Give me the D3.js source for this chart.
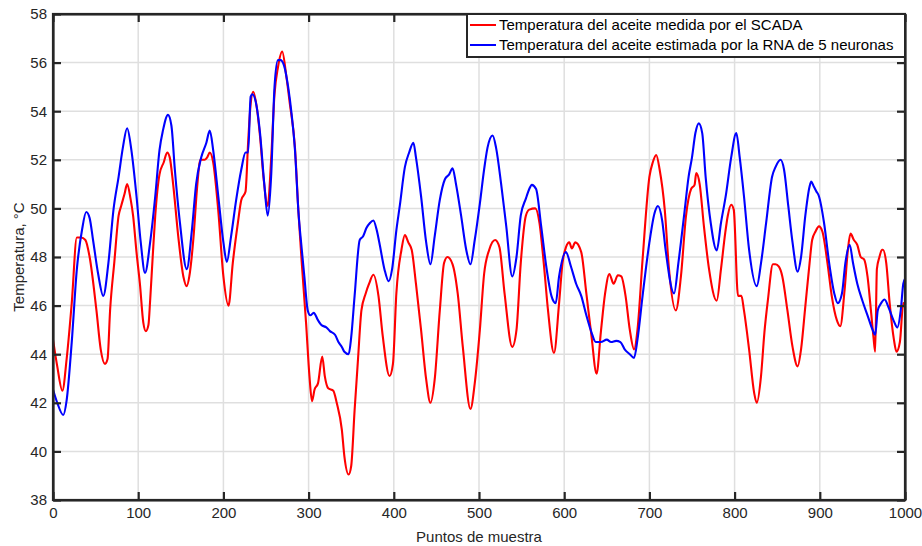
<!DOCTYPE html>
<html>
<head>
<meta charset="utf-8">
<script src="https://cdn.jsdelivr.net/npm/d3@7"></script>
<style>
  html, body { margin: 0; padding: 0; background: #fff; }
  svg { display: block; font-family: "Liberation Sans", Arial, Helvetica, sans-serif; }
</style>
</head>
<body>
<svg id="chart" width="922" height="546"></svg>
<script>
// Oil temperature: SCADA measurement vs. 5-neuron ANN estimate
const seriesNames = [
  "Temperatura del aceite medida por el SCADA",
  "Temperatura del aceite estimada por la RNA de 5 neuronas"
];
const seriesColors = ["#ff0000", "#0000ff"];

const xTicks = [0, 100, 200, 300, 400, 500, 600, 700, 800, 900, 1000];
const yTicks = [38, 40, 42, 44, 46, 48, 50, 52, 54, 56, 58];

// Measured (SCADA)
const scadaX = [0, 5, 11, 16, 22, 28, 33, 38, 43, 51, 56, 61, 64, 67, 72, 77, 80, 84, 87, 91, 94, 98, 102, 106, 109, 112, 114, 117, 120, 125, 130, 134, 137, 141, 147, 153, 157, 160, 165, 169, 173, 178, 181, 184, 188, 194, 200, 206, 211, 217, 221, 226, 229, 232, 235, 239, 243, 247, 252, 256, 260, 264, 269, 274, 278, 284, 288, 292, 297, 301, 304, 307, 311, 316, 319, 323, 329, 333, 339, 342, 347, 350, 354, 358, 362, 367, 371, 376, 382, 387, 395, 399, 403, 409, 413, 417, 421, 426, 432, 438, 443, 448, 454, 459, 463, 469, 475, 481, 490, 495, 501, 506, 512, 519, 524, 530, 539, 544, 549, 555, 559, 566, 571, 576, 581, 588, 594, 598, 602, 606, 609, 613, 620, 626, 632, 638, 643, 648, 653, 658, 663, 667, 672, 677, 682, 686, 692, 700, 704, 708, 712, 718, 723, 731, 737, 743, 749, 753, 755, 759, 764, 770, 779, 784, 789, 792, 796, 799, 804, 808, 811, 817, 823, 826, 831, 835, 839, 845, 848, 852, 856, 862, 868, 874, 878, 883, 888, 891, 895, 899, 903, 909, 914, 920, 924, 929, 933, 936, 940, 944, 948, 952, 956, 960, 963, 965, 967, 970, 973, 974, 978, 982, 987, 990, 994, 998, 1000];
const scadaY = [44.6, 43.5, 42.5, 43.8, 46.1, 48.8, 48.8, 48.7, 48.0, 45.8, 44.2, 43.6, 43.8, 45.8, 47.8, 49.7, 50.1, 50.6, 51.0, 50.4, 49.7, 48.2, 46.9, 45.3, 44.95, 45.2, 46.2, 48.0, 49.7, 51.4, 51.9, 52.3, 52.1, 51.0, 48.85, 47.2, 46.8, 47.2, 48.85, 50.8, 52.0, 52.0, 52.1, 52.3, 51.9, 49.9, 47.2, 46.0, 47.75, 49.4, 50.35, 50.7, 52.7, 54.3, 54.8, 54.2, 52.96, 51.3, 50.1, 52.0, 54.7, 55.8, 56.45, 55.4, 54.3, 52.5, 49.9, 47.75, 45.3, 43.1, 42.07, 42.55, 42.8, 43.9, 43.1, 42.6, 42.5, 42.0, 40.9, 39.8, 39.05, 39.4, 41.7, 43.8, 45.8, 46.5, 46.9, 47.27, 46.4, 44.75, 43.1, 43.6, 46.5, 48.3, 48.9, 48.6, 48.3, 46.9, 45.0, 42.96, 42.0, 42.96, 45.8, 47.75, 48.0, 47.7, 46.5, 44.3, 41.75, 42.8, 45.0, 47.3, 48.3, 48.7, 48.4, 46.5, 44.3, 45.0, 47.75, 49.7, 49.95, 50.0, 49.4, 47.75, 45.8, 44.05, 46.1, 47.75, 48.4, 48.6, 48.35, 48.6, 48.2, 46.5, 44.75, 43.2, 44.9, 46.5, 47.3, 46.9, 47.25, 47.2, 46.4, 45.0, 44.2, 45.0, 47.9, 51.3, 51.9, 52.2, 51.6, 49.95, 47.5, 45.8, 47.2, 49.7, 50.8, 50.97, 51.45, 51.0, 49.26, 47.5, 46.2, 47.5, 48.99, 49.7, 50.15, 49.95, 46.4, 46.4, 45.8, 44.2, 42.4, 42.0, 43.1, 44.9, 46.2, 47.7, 47.7, 47.6, 47.2, 45.8, 44.3, 43.5, 44.2, 45.97, 47.75, 48.7, 49.05, 49.26, 49.05, 47.75, 46.4, 45.4, 45.15, 46.6, 48.3, 48.96, 48.7, 48.5, 48.0, 47.9, 47.2, 45.8, 44.7, 44.1, 47.5, 48.0, 48.3, 48.3, 47.75, 46.1, 44.6, 44.1, 44.5, 46.1, 46.0];

// Estimated (RNA)
const rnaX = [0, 5, 12, 16, 22, 28, 34, 39, 43, 47, 53, 59, 65, 71, 77, 82, 87, 92, 98, 103, 108, 114, 120, 125, 129, 135, 139, 143, 149, 157, 163, 168, 174, 180, 184, 188, 194, 200, 204, 209, 215, 221, 226, 229, 232, 234, 239, 243, 248, 252, 256, 260, 264, 267, 271, 276, 280, 284, 288, 292, 295, 299, 302, 306, 311, 315, 321, 325, 331, 335, 339, 342, 347, 350, 354, 360, 364, 368, 372, 376, 380, 383, 389, 394, 398, 403, 407, 413, 418, 423, 426, 432, 438, 443, 448, 454, 460, 465, 469, 473, 479, 485, 490, 495, 501, 506, 510, 516, 520, 526, 532, 539, 544, 549, 555, 559, 562, 567, 573, 579, 585, 590, 594, 602, 608, 614, 620, 626, 632, 637, 643, 650, 655, 661, 666, 671, 677, 682, 686, 692, 700, 706, 710, 715, 719, 729, 734, 741, 746, 750, 754, 758, 762, 766, 772, 779, 784, 790, 796, 802, 806, 811, 817, 826, 831, 837, 844, 848, 854, 858, 863, 868, 874, 878, 883, 888, 890, 893, 896, 899, 905, 911, 917, 921, 926, 930, 935, 939, 944, 950, 956, 962, 965, 968, 972, 976, 981, 987, 991, 995, 998, 1000];
const rnaY = [42.55, 42.0, 41.5, 42.1, 44.5, 47.5, 49.1, 49.85, 49.6, 48.7, 47.3, 46.4, 47.75, 49.95, 51.3, 52.5, 53.3, 52.4, 50.5, 48.6, 47.35, 48.6, 50.5, 52.4, 53.2, 53.85, 53.4, 51.6, 49.4, 47.5, 49.1, 51.0, 52.1, 52.7, 53.2, 52.4, 50.5, 48.6, 47.8, 48.85, 50.35, 51.6, 52.3, 52.3, 54.6, 54.7, 54.2, 53.1, 51.0, 49.7, 51.3, 55.0, 56.1, 56.1, 55.9, 55.0, 53.9, 52.4, 49.9, 48.3, 47.2, 45.8, 45.6, 45.7, 45.4, 45.2, 45.1, 44.95, 44.8, 44.5, 44.3, 44.1, 44.0, 44.7, 46.4, 48.7, 48.85, 49.2, 49.4, 49.5, 49.1, 48.6, 47.5, 47.0, 47.5, 49.1, 50.1, 51.7, 52.3, 52.7, 52.1, 50.5, 48.6, 47.7, 48.85, 50.35, 51.2, 51.4, 51.65, 51.0, 49.7, 48.3, 47.7, 48.7, 50.2, 51.6, 52.5, 53.0, 52.5, 51.0, 49.26, 47.2, 48.0, 49.7, 50.4, 50.8, 50.97, 50.8, 49.26, 47.6, 46.4, 46.1, 47.2, 48.2, 47.6, 46.9, 46.4, 45.6, 44.9, 44.5, 44.5, 44.6, 44.5, 44.55, 44.5, 44.2, 44.0, 43.85, 44.6, 46.4, 48.6, 49.8, 50.1, 49.5, 48.3, 46.5, 47.75, 49.8, 51.3, 52.1, 53.1, 53.5, 53.1, 51.3, 49.4, 48.27, 49.4, 50.6, 52.1, 53.1, 52.1, 50.5, 48.3, 46.8, 47.75, 49.4, 51.3, 51.7, 52.0, 51.6, 50.1, 48.6, 47.4, 48.0, 49.7, 50.9, 51.1, 50.9, 50.7, 50.5, 49.4, 47.75, 46.5, 46.1, 46.5, 47.75, 48.5, 47.75, 46.9, 46.2, 45.6, 45.0, 44.8, 45.8, 46.1, 46.25, 45.9, 45.35, 45.1, 45.8, 46.9, 47.1];

const svg = d3.select("#chart");
const W = 922, H = 546;
const margin = { top: 14, right: 17, bottom: 46, left: 53 };
const iw = W - margin.left - margin.right;
const ih = H - margin.top - margin.bottom;

const x = d3.scaleLinear().domain([0, 1000]).range([margin.left, margin.left + iw]);
const y = d3.scaleLinear().domain([38, 58]).range([margin.top + ih, margin.top]);

const axisColor = "#262626";
const tickLen = 8;
const fontSize = "15px";

// grid
const grid = svg.append("g");
grid.selectAll("line.gx").data(xTicks).join("line")
  .attr("x1", d => x(d)).attr("x2", d => x(d))
  .attr("y1", y(38)).attr("y2", y(58))
  .attr("stroke", "#dfdfdf").attr("stroke-width", 1.5);
grid.selectAll("line.gy").data(yTicks).join("line")
  .attr("x1", x(0)).attr("x2", x(1000))
  .attr("y1", d => y(d)).attr("y2", d => y(d))
  .attr("stroke", "#dfdfdf").attr("stroke-width", 1.5);

// series
const datasets = [
  scadaX.map((v, i) => [v, scadaY[i]]),
  rnaX.map((v, i) => [v, rnaY[i]])
];
const line = d3.line().x(d => x(d[0])).y(d => y(d[1])).curve(d3.curveMonotoneX);
const plot = svg.append("g");
plot.append("clipPath").attr("id", "clip").append("rect")
  .attr("x", x(0)).attr("y", y(58)).attr("width", iw).attr("height", ih);
datasets.forEach((ds, i) => {
  plot.append("path").datum(ds)
    .attr("d", line)
    .attr("fill", "none")
    .attr("stroke", seriesColors[i])
    .attr("stroke-width", 2.1)
    .attr("stroke-linejoin", "round")
    .attr("clip-path", "url(#clip)");
});

// axes (ticks pointing inward, on all four sides)
const fmt = d3.format("d");
const axBottom = svg.append("g").attr("transform", `translate(0,${y(38)})`)
  .call(d3.axisBottom(x).tickValues(xTicks).tickFormat(fmt).tickSizeInner(-tickLen).tickSizeOuter(0).tickPadding(7));
const axTop = svg.append("g").attr("transform", `translate(0,${y(58)})`)
  .call(d3.axisTop(x).tickValues(xTicks).tickFormat("").tickSizeInner(-tickLen).tickSizeOuter(0));
const axLeft = svg.append("g").attr("transform", `translate(${x(0)},0)`)
  .call(d3.axisLeft(y).tickValues(yTicks).tickFormat(fmt).tickSizeInner(-tickLen).tickSizeOuter(0).tickPadding(6));
const axRight = svg.append("g").attr("transform", `translate(${x(1000)},0)`)
  .call(d3.axisRight(y).tickValues(yTicks).tickFormat("").tickSizeInner(-tickLen).tickSizeOuter(0));

[axBottom, axTop, axLeft, axRight].forEach(g => {
  g.select(".domain").attr("stroke", axisColor).attr("stroke-width", 2.2);
  g.selectAll(".tick line").attr("stroke", axisColor).attr("stroke-width", 2.2);
  g.selectAll(".tick text").attr("fill", axisColor)
    .style("font-family", "'Liberation Sans', Arial, sans-serif").style("font-size", fontSize);
});
// frame
svg.append("rect").attr("x", x(0)).attr("y", y(58)).attr("width", iw).attr("height", ih)
  .attr("fill", "none").attr("stroke", axisColor).attr("stroke-width", 2.2);

// axis titles
svg.append("text").attr("x", (x(0) + x(1000)) / 2).attr("y", 542)
  .attr("text-anchor", "middle").attr("fill", axisColor).style("font-size", fontSize)
  .text("Puntos de muestra");
svg.append("text").attr("transform", `translate(24,${(y(38) + y(58)) / 2}) rotate(-90)`)
  .attr("text-anchor", "middle").attr("fill", axisColor).style("font-size", fontSize)
  .text("Temperatura, °C");

// legend
const lg = svg.append("g");
const lx0 = 467, ly0 = y(58), lw = x(1000) - lx0, lh = 43;
lg.append("rect").attr("x", lx0).attr("y", ly0).attr("width", lw).attr("height", lh)
  .attr("fill", "#fff").attr("stroke", axisColor).attr("stroke-width", 2);
seriesNames.forEach((name, i) => {
  const yy = ly0 + 11 + i * 20;
  lg.append("line").attr("x1", lx0 + 3).attr("x2", lx0 + 29).attr("y1", yy).attr("y2", yy)
    .attr("stroke", seriesColors[i]).attr("stroke-width", 2);
  lg.append("text").attr("x", lx0 + 32).attr("y", yy + 5)
    .attr("fill", "#000").style("font-size", fontSize).text(name);
});
</script>
</body>
</html>
